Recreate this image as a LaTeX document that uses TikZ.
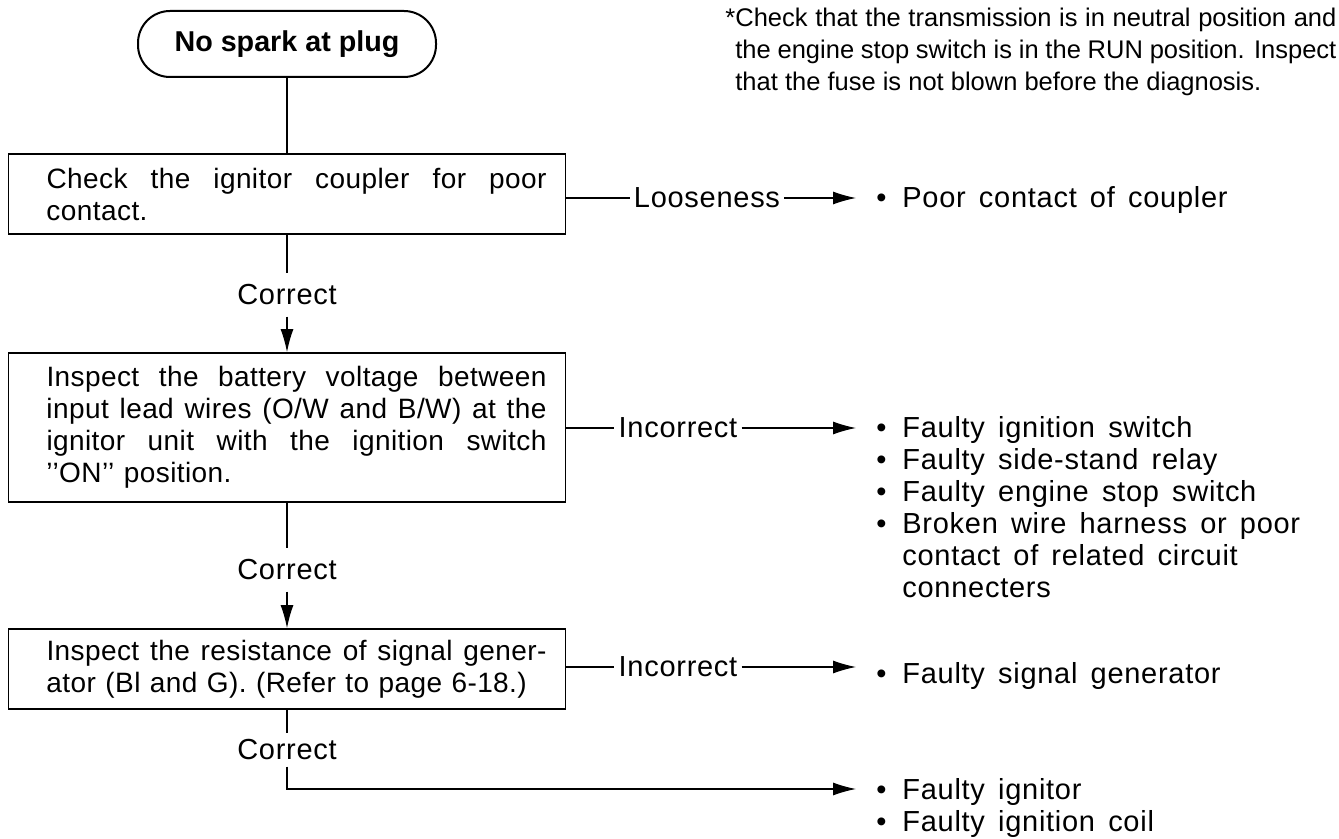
\documentclass[tikz,border=0pt]{standalone}
\usepackage{fontspec}
\setmainfont{Liberation Sans}
\newfontfamily\bodyf{Liberation Sans}[LetterSpace=2.5,WordSpace=1.5]
\newfontfamily\boxf{Liberation Sans}[LetterSpace=1.5,WordSpace=1.15]
\usetikzlibrary{arrows.meta,positioning}
\newcommand\bitem{\makebox[13pt][l]{•}}
\newcommand\btxt{\bodyf\fontsize{14.5}{16}\selectfont}
\tikzset{
  ar/.style={-{Latex[length=11.5pt,width=6.5pt]},line width=0.55pt},
  ln/.style={line width=0.55pt},
  startbox/.style={draw,line width=1pt,rounded corners=16pt,minimum width=149pt,minimum height=33pt,inner sep=0pt,font=\bfseries\fontsize{14.35}{17}\selectfont},
  box/.style={draw,line width=0.9pt,text width=259.5pt,inner xsep=9.5pt,inner ysep=0pt,align=justify,
    font=\boxf\fontsize{14}{16}\selectfont,execute at begin node=\leftskip 9.5pt\relax},
  lbl/.style={inner xsep=2pt,inner ysep=5.5pt,font=\btxt},
  res/.style={inner xsep=10pt,inner ysep=0pt,align=left,anchor=base west,font=\btxt},
  note/.style={inner sep=0pt,text width=300.5pt,align=justify,anchor=base west,font=\fontsize{12.75}{16}\selectfont}
}
\begin{document}
\begin{tikzpicture}[x=0.5pt,y=-0.5pt]
\useasboundingbox (0,0) rectangle (1339,839);
\node[startbox] (start) at (287,44) {No spark at plug};
\node[note] (nt) at (735,27) {\llap{*}Check that the transmission is in neutral position and\linebreak the engine stop switch is in the RUN position. Inspect\linebreak that the fuse is not blown before the diagnosis.};
\node[box,minimum height=40pt] (chk) at (287,194) {Check the ignitor coupler for poor\linebreak contact.};
\node[box,minimum height=74.5pt] (volt) at (287,427.5) {Inspect the battery voltage between\linebreak input lead wires (O/W and B/W) at the\linebreak ignitor unit with the ignition switch\linebreak ’’ON’’ position.};
\node[box,minimum height=40pt] (sig) at (287,669) {Inspect the resistance of signal gener-\linebreak ator (Bl and G). (Refer to page 6-18.)};
\node[lbl] (c1) at (287,295) {Correct};
\node[lbl] (c2) at (287,570) {Correct};
\node[lbl,inner ysep=3pt] (c3) at (287,750) {Correct};
\node[lbl] (l1) at (707,198) {Looseness};
\node[lbl] (l2) at (678,428) {Incorrect};
\node[lbl] (l3) at (678,667) {Incorrect};
\node[res] (r1) at (856,208) {\bitem Poor contact of coupler};
\node[res] (r2) at (856,597) {\bitem Faulty ignition switch\\\bitem Faulty side-stand relay\\\bitem Faulty engine stop switch\\\bitem Broken wire harness or poor\\\hspace*{13pt}contact of related circuit\\\hspace*{13pt}connecters};
\node[res] (r3) at (856,683) {\bitem Faulty signal generator};
\node[res] (r4) at (856,831) {\bitem Faulty ignitor\\\bitem Faulty ignition coil};
\coordinate (k4) at (287,789);
\draw[ln] (start) -- (chk);
\draw[ln] (chk) -- (c1);
\draw[ar] (c1) -- (volt);
\draw[ln] (volt) -- (c2);
\draw[ar] (c2) -- (sig);
\draw[ln] (sig) -- (c3);
\draw[ar] (c3) -- (k4) -- (k4 -| r4.west);
\draw[ln] (chk.east |- l1) -- (l1);
\draw[ar] (l1) -- (l1 -| r1.west);
\draw[ln] (volt.east |- l2) -- (l2);
\draw[ar] (l2) -- (l2 -| r2.west);
\draw[ln] (sig.east |- l3) -- (l3);
\draw[ar] (l3) -- (l3 -| r3.west);
\end{tikzpicture}
\end{document}
